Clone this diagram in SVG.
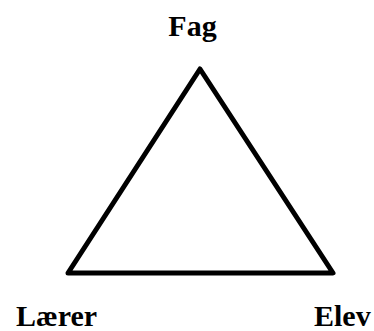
<svg xmlns="http://www.w3.org/2000/svg" width="374" height="331" viewBox="0 0 374 331">
<style>
.lbl{font-family:"Liberation Serif","Times New Roman",serif;font-weight:bold;font-size:30px;fill:#000}
.edge{fill:none;stroke:#000;stroke-width:5;stroke-linejoin:round;stroke-linecap:round}
</style>
<rect width="374" height="331" fill="#fff"/>
<g id="connectors">
<path class="edge" d="M200,69 L333,273 L68,273 Z"/>
</g>
<g id="node-fag"><text class="lbl" x="192.5" y="36" text-anchor="middle">Fag</text></g>
<g id="node-laerer"><text class="lbl" x="16" y="326">Lærer</text></g>
<g id="node-elev"><text class="lbl" x="314" y="326">Elev</text></g>
</svg>
